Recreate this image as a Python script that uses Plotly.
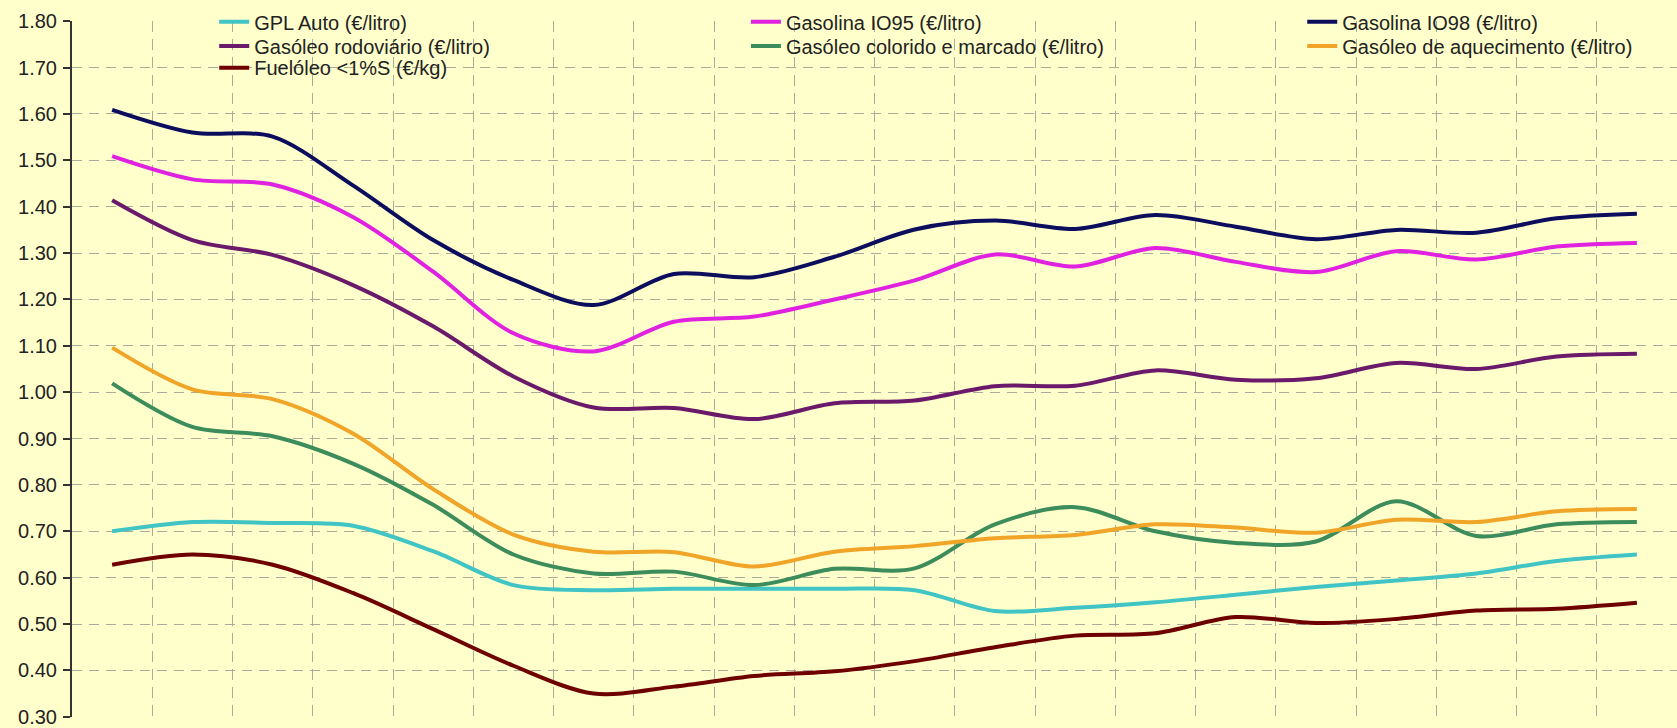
import plotly.graph_objects as go

# 20 monthly observations (category positions; x labels are not shown in the chart)
months = [f"Mês {i}" for i in range(1, 21)]

gpl_auto = [0.700, 0.720, 0.718, 0.712, 0.657, 0.584, 0.573, 0.576, 0.576, 0.576,
            0.573, 0.528, 0.535, 0.547, 0.563, 0.580, 0.594, 0.609, 0.636, 0.650]
gasolina_95 = [1.509, 1.459, 1.448, 1.378, 1.260, 1.127, 1.088, 1.152, 1.163, 1.200,
               1.241, 1.297, 1.271, 1.311, 1.281, 1.259, 1.304, 1.286, 1.314, 1.322]
gasolina_98 = [1.609, 1.560, 1.551, 1.446, 1.328, 1.242, 1.188, 1.255, 1.248, 1.292,
               1.351, 1.370, 1.352, 1.382, 1.357, 1.330, 1.350, 1.344, 1.375, 1.385]
gasoleo_rod = [1.414, 1.328, 1.296, 1.231, 1.142, 1.034, 0.967, 0.966, 0.942, 0.976,
               0.982, 1.013, 1.014, 1.047, 1.027, 1.030, 1.063, 1.050, 1.077, 1.083]
gasoleo_col = [1.019, 0.925, 0.905, 0.846, 0.757, 0.650, 0.609, 0.613, 0.584, 0.619,
               0.620, 0.715, 0.752, 0.700, 0.675, 0.678, 0.765, 0.690, 0.715, 0.720]
gasoleo_aq = [1.096, 1.006, 0.985, 0.911, 0.791, 0.693, 0.656, 0.655, 0.624, 0.656,
              0.668, 0.685, 0.692, 0.715, 0.708, 0.697, 0.725, 0.720, 0.743, 0.748]
fuel_oleo = [0.628, 0.650, 0.628, 0.567, 0.489, 0.410, 0.350, 0.365, 0.388, 0.398,
             0.420, 0.450, 0.475, 0.480, 0.515, 0.502, 0.511, 0.529, 0.533, 0.546]

y_ticks = [0.30, 0.40, 0.50, 0.60, 0.70, 0.80, 0.90, 1.00, 1.10, 1.20, 1.30, 1.40,
           1.50, 1.60, 1.70, 1.80]

# name, values, colour, legend column, legend row
series = [
    ("GPL Auto (€/litro)", gpl_auto, "#40C4C4", 0, 0),
    ("Gasolina IO95 (€/litro)", gasolina_95, "#E022E0", 1, 0),
    ("Gasolina IO98 (€/litro)", gasolina_98, "#0D0D5E", 2, 0),
    ("Gasóleo rodoviário (€/litro)", gasoleo_rod, "#6B1A6B", 0, 1),
    ("Gasóleo colorido e marcado (€/litro)", gasoleo_col, "#3C8C5C", 1, 1),
    ("Gasóleo de aquecimento (€/litro)", gasoleo_aq, "#F0A428", 2, 1),
    ("Fuelóleo <1%S (€/kg)", fuel_oleo, "#6E0000", 0, 2),
]

BG = "#FFFFCC"
FONT = "Liberation Sans, Arial, sans-serif"
legend_cols = [0.0886, 0.4199, 0.7665]
legend_rows = [0.999, 0.964, 0.933]

fig = go.Figure()
legends = {}
for k, (name, vals, color, col, row) in enumerate(series):
    key = "legend" if k == 0 else f"legend{k + 1}"
    fig.add_trace(go.Scatter(
        x=months, y=vals, name=name, mode="lines",
        line=dict(color=color, width=4, shape="spline", smoothing=0.9),
        legend=key,
    ))
    legends[key] = dict(
        bgcolor="rgba(0,0,0,0)", borderwidth=0, orientation="v",
        font=dict(family=FONT, size=20, color="#222222"),
        x=legend_cols[col], xanchor="left",
        y=legend_rows[row], yanchor="middle",
    )

fig.update_layout(
    width=1677, height=728,
    margin=dict(l=72, r=0, t=21, b=11),
    paper_bgcolor=BG, plot_bgcolor=BG,
    font=dict(family=FONT, size=20, color="#222222"),
    showlegend=True,
    xaxis=dict(
        type="category", range=[-0.5, 19.5], tickson="boundaries",
        showticklabels=False, ticks="", showline=False, zeroline=False,
        showgrid=True, gridcolor="#ABAB9C", gridwidth=1.3, griddash="11px,7px",
    ),
    yaxis=dict(
        range=[0.2995, 1.8005], tickmode="array", tickvals=y_ticks,
        ticktext=[f"{v:.2f}" for v in y_ticks],
        showline=True, linecolor="#333333", linewidth=2,
        ticks="outside", ticklen=7, tickwidth=1.5, tickcolor="#333333",
        ticklabelstandoff=2,
        tickfont=dict(family=FONT, size=20, color="#222222"),
        showgrid=True, gridcolor="#ABAB9C", gridwidth=1.3, griddash="10px,7px",
        zeroline=False,
    ),
    shapes=[dict(
        type="rect", xref="paper", yref="paper", x0=0.0386, x1=1.0, y0=0.898, y1=1.0,
        fillcolor=BG, line=dict(width=0), layer="between",
    )],
    **legends,
)

fig.write_html(
    "out.html",
    config={"displayModeBar": False},
    post_script="document.body.style.margin='0';document.body.style.background='#FFFFCC';",
)
